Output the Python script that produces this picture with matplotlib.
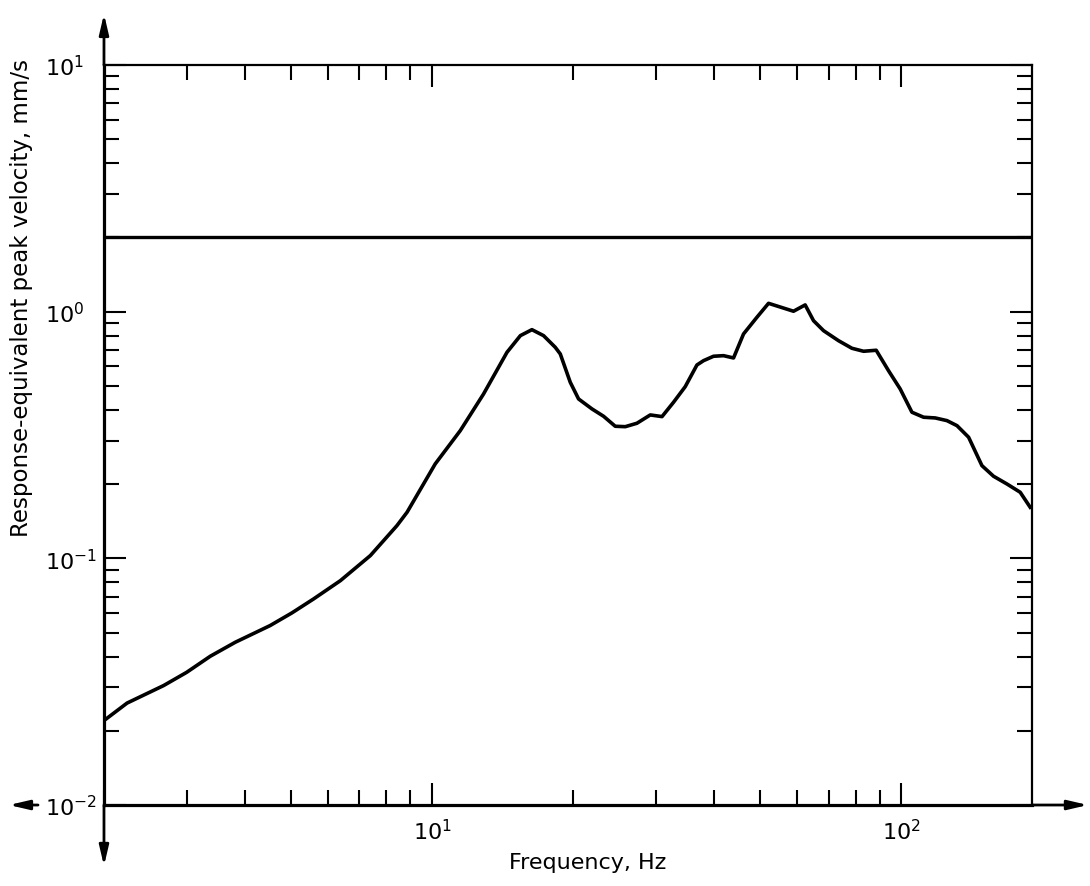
import matplotlib
matplotlib.use("Agg")
import matplotlib.pyplot as plt
import numpy as np

# frequency (Hz) and response-equivalent peak velocity (mm/s)
freq = [2.0, 2.24, 2.68, 3.0, 3.37, 3.81, 4.52, 5.03, 5.59, 6.38, 7.39, 8.42, 8.85,
        10.16, 11.49, 12.88, 14.45, 15.43, 16.33, 17.29, 18.31, 18.77, 19.71, 20.53,
        21.93, 23.21, 24.58, 25.82, 27.34, 29.19, 30.92, 32.72, 34.65, 36.70, 37.91,
        39.81, 41.81, 43.92, 46.13, 49.26, 52.15, 58.95, 62.42, 65.03, 68.31, 73.52,
        78.52, 83.12, 88.45, 93.96, 99.5, 105.4, 111.6, 118.2, 125.2, 131.5, 139.2,
        148.6, 157.3, 168.0, 179.3, 188.3]
velocity = [0.0220, 0.0259, 0.0305, 0.0345, 0.0401, 0.0457, 0.0534, 0.0601, 0.0684,
            0.0812, 0.1026, 0.1357, 0.1538, 0.2414, 0.3294, 0.4638, 0.6844, 0.7995,
            0.8453, 0.7995, 0.7173, 0.6738, 0.5174, 0.4428, 0.4033, 0.3767, 0.3431,
            0.3418, 0.3529, 0.3814, 0.3755, 0.4293, 0.4966, 0.6079, 0.6330, 0.6595,
            0.6632, 0.6491, 0.8123, 0.9490, 1.081, 1.004, 1.065, 0.9194, 0.8375,
            0.7627, 0.7105, 0.6910, 0.6975, 0.5765, 0.4861, 0.3911, 0.3733, 0.3708,
            0.3616, 0.3450, 0.3097, 0.2376, 0.2152, 0.2002, 0.1853, 0.1611]

limit = 2.0  # horizontal limit line, mm/s

plt.rcParams['font.family'] = ['DejaVu Sans']

fig = plt.figure(figsize=(10.9, 8.87), dpi=100)
ax = fig.add_axes([0.0954, 0.0913, 0.8514, 0.8343])

ax.plot(freq, velocity, color='black', lw=2.6, solid_joinstyle='round')
ax.axhline(limit, color='black', lw=2.4)

ax.set_xscale('log')
ax.set_yscale('log')
ax.set_xlim(2, 190)
ax.set_ylim(0.01, 10)

# spines
for side in ['top', 'right']:
    ax.spines[side].set_linewidth(1.6)
for side in ['left', 'bottom']:
    ax.spines[side].set_linewidth(2.3)

# ticks point inward on all four sides
ax.tick_params(which='both', direction='in', top=True, right=True, width=1.5,
               labelsize=16)
ax.tick_params(which='major', length=16)
ax.tick_params(which='minor', length=11)
ax.tick_params(axis='x', which='major', pad=9)
ax.tick_params(axis='y', which='major', pad=42.5)
ax.xaxis.set_minor_formatter(matplotlib.ticker.NullFormatter())
ax.yaxis.set_minor_formatter(matplotlib.ticker.NullFormatter())
for lab in ax.get_yticklabels():
    lab.set_horizontalalignment('left')

ax.set_xlabel("Frequency, Hz", fontsize=16)
ax.set_ylabel("Response-equivalent peak velocity, mm/s", fontsize=16.5)
ax.xaxis.set_label_coords(0.5216, -0.064)
ax.xaxis.label.set_va('top')
ax.yaxis.set_label_coords(-0.076, 0.686)

# arrows extending the axes
arrow = dict(arrowstyle='-|>,head_length=0.6,head_width=0.14', color='black',
             lw=2.0, mutation_scale=20, shrinkA=0, shrinkB=0)
ax.annotate('', xy=(0, 1.069), xytext=(0, 1.0), xycoords='axes fraction',
            arrowprops=arrow, annotation_clip=False)
ax.annotate('', xy=(0, -0.0824), xytext=(0, 0.0), xycoords='axes fraction',
            arrowprops=arrow, annotation_clip=False)
ax.annotate('', xy=(1.0603, 0), xytext=(1.0, 0), xycoords='axes fraction',
            arrowprops=arrow, annotation_clip=False)
ax.annotate('', xy=(-0.1024, 0), xytext=(-0.0711, 0), xycoords='axes fraction',
            arrowprops=arrow, annotation_clip=False)

fig.savefig("out.png", dpi=100)
